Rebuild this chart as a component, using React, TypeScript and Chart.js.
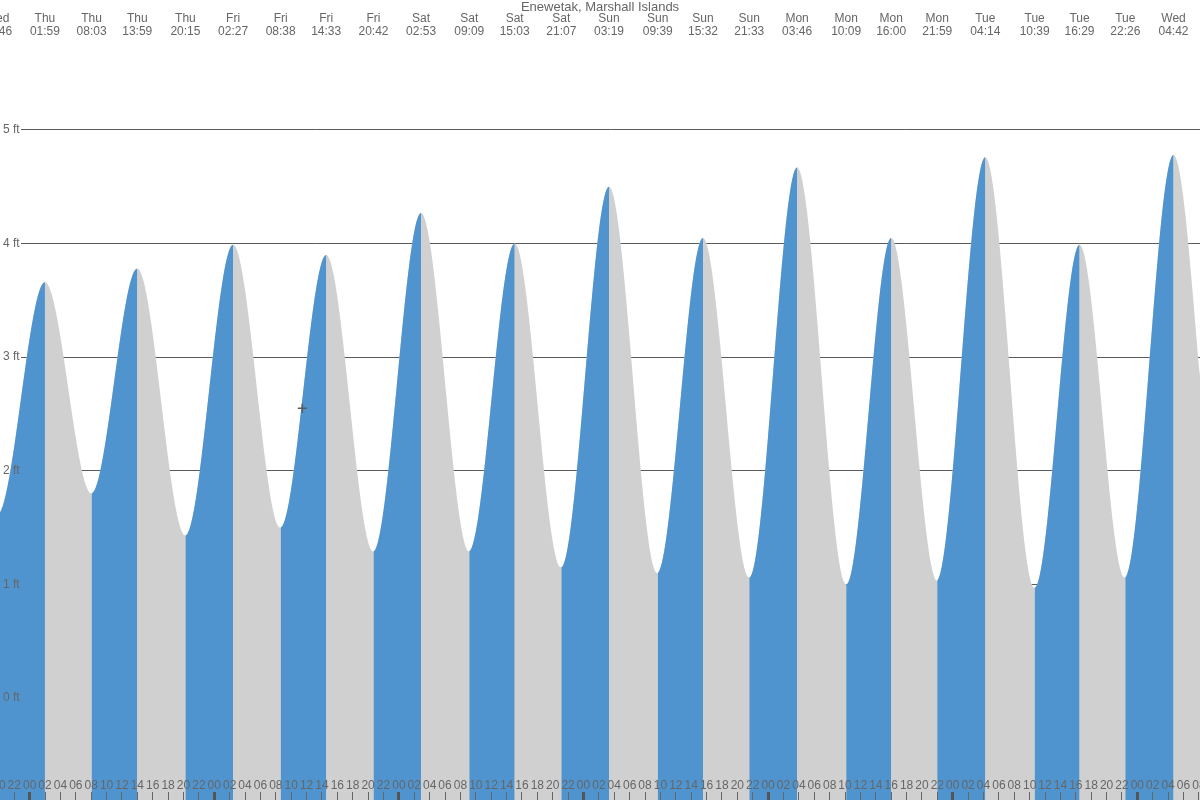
import React, { useEffect, useRef } from 'react';
import { Chart, registerables } from 'chart.js';

Chart.register(...registerables);

// ---------- data ----------
const TITLE = 'Enewetak, Marshall Islands';

// tide extremes (first and last two lie beyond the visible edges)
const tideDays = ['Wed', 'Wed', 'Thu', 'Thu', 'Thu', 'Thu', 'Fri', 'Fri', 'Fri', 'Fri', 'Sat', 'Sat', 'Sat', 'Sat', 'Sun', 'Sun', 'Sun', 'Sun', 'Mon', 'Mon', 'Mon', 'Mon', 'Tue', 'Tue', 'Tue', 'Tue', 'Wed', 'Wed', 'Wed'];
const tideTimes = ['13:35', '19:46', '01:59', '08:03', '13:59', '20:15', '02:27', '08:38', '14:33', '20:42', '02:53', '09:09', '15:03', '21:07', '03:19', '09:39', '15:32', '21:33', '03:46', '10:09', '16:00', '21:59', '04:14', '10:39', '16:29', '22:26', '04:42', '11:05', '17:00'];
const tideFeet = [3.60, 1.61, 3.66, 1.80, 3.78, 1.43, 3.99, 1.50, 3.90, 1.29, 4.27, 1.29, 4.00, 1.15, 4.50, 1.10, 4.05, 1.06, 4.67, 1.00, 4.05, 1.03, 4.76, 0.97, 3.99, 1.06, 4.78, 1.30, 4.00];

// "now" marker
const nowDayOffset = 1; // Fri
const nowTime = '11:27';
const nowFeet = 2.55;

// axis ranges (hours from Thu 00:00, feet)
const X_MIN = -3.855;
const X_MAX = 152.145;
const Y_MIN = -0.898;
const Y_MAX = 6.144;
const yTickValues = [0, 1, 2, 3, 4, 5];
const HOUR_TICK_FIRST = -4;
const HOUR_TICK_LAST = 152;
const HOUR_TICK_STEP = 2;

// ---------- styles ----------
const BLUE = '#4f94cf';
const GRAY = '#d0d0d0';
const TEXT = '#666666';
const GRID = '#5a5a5a';
const FONT = "'Liberation Sans', Arial, sans-serif";
const NARROW = "'Liberation Sans Narrow', 'Liberation Sans', Arial, sans-serif";

function toHours(t: string): number {
  const [h, m] = t.split(':').map(Number);
  return h + m / 60;
}

const tideHours: number[] = (() => {
  let day = -1;
  return tideDays.map((d, i) => {
    if (i > 0 && d !== tideDays[i - 1]) day++;
    return day * 24 + toHours(tideTimes[i]);
  });
})();

const hourTicks: number[] = [];
for (let v = HOUR_TICK_FIRST; v <= HOUR_TICK_LAST; v += HOUR_TICK_STEP) hourTicks.push(v);

const topTickIdx = tideHours.map((h, i) => i).filter((i) => tideHours[i] > X_MIN - 2 && tideHours[i] <= X_MAX);

const tidePoints = () => tideHours.map((h, i) => ({ x: h, y: tideFeet[i] }));

const yGridPlugin = {
  id: 'yGridLines',
  beforeDatasetsDraw(chart: any) {
    const { ctx, chartArea } = chart;
    const y = chart.scales.y;
    ctx.save();
    ctx.strokeStyle = GRID;
    ctx.lineWidth = 1;
    yTickValues.forEach((v) => {
      const py = Math.round(y.getPixelForValue(v) - 0.5) + 0.5;
      ctx.beginPath();
      ctx.moveTo(chartArea.left + 21, py);
      ctx.lineTo(chartArea.right, py);
      ctx.stroke();
    });
    ctx.restore();
  },
};

const isMidnight = (c: any) => c.tick && ((c.tick.value % 24) + 24) % 24 === 0;

export default function App() {
  const ref = useRef<HTMLCanvasElement>(null);

  useEffect(() => {
    document.body.style.margin = '0';
    Chart.defaults.font.family = FONT;
    const chart = new Chart(ref.current as HTMLCanvasElement, {
      type: 'line',
      data: {
        datasets: [
          {
            label: 'now',
            data: [{ x: nowDayOffset * 24 + toHours(nowTime), y: nowFeet }],
            showLine: false,
            fill: false,
            pointStyle: 'cross',
            pointRadius: 4.5,
            borderColor: '#5a5a5a',
            backgroundColor: '#5a5a5a',
            borderWidth: 1.5,
            order: -1,
          } as any,
          {
            label: 'rising',
            data: tidePoints(),
            fill: 'start',
            backgroundColor: BLUE,
            borderColor: 'rgba(0,0,0,0)',
            borderWidth: 0,
            pointRadius: 0,
            cubicInterpolationMode: 'monotone',
            segment: {
              backgroundColor: (c: any) => (c.p1.parsed.y >= c.p0.parsed.y ? BLUE : 'rgba(0,0,0,0)'),
              borderColor: 'rgba(0,0,0,0)',
            },
            order: 1,
          } as any,
          {
            label: 'tide',
            data: tidePoints(),
            fill: 'start',
            backgroundColor: GRAY,
            borderColor: 'rgba(0,0,0,0)',
            borderWidth: 0,
            pointRadius: 0,
            cubicInterpolationMode: 'monotone',
            order: 2,
          } as any,
        ],
      },
      options: {
        animation: false,
        responsive: false,
        layout: { padding: 0, autoPadding: false },
        events: [],
        plugins: {
          legend: { display: false },
          tooltip: { enabled: false },
          title: { display: false },
        },
        scales: {
          x: {
            type: 'linear',
            position: 'bottom',
            min: X_MIN,
            max: X_MAX,
            afterBuildTicks: (s: any) => {
              s.ticks = hourTicks.map((v) => ({ value: v }));
            },
            afterFit: (s: any) => {
              s.height = 0;
              s.paddingLeft = 0;
              s.paddingRight = 0;
            },
            grid: {
              display: true,
              drawOnChartArea: false,
              drawTicks: true,
              tickLength: -8,
              tickWidth: (c: any) => (isMidnight(c) ? 3 : 1),
              tickColor: (c: any) => (isMidnight(c) ? '#555555' : '#666666'),
              z: 1,
            },
            border: { display: false },
            ticks: {
              mirror: true,
              autoSkip: false,
              maxRotation: 0,
              minRotation: 0,
              padding: 6.8,
              z: 1,
              color: TEXT,
              font: { family: NARROW, size: 12, lineHeight: 1.2 },
              callback: (v: any) => {
                const h = ((Number(v) % 24) + 24) % 24;
                return String(h).padStart(2, '0');
              },
            },
          },
          x2: {
            type: 'linear',
            position: 'top',
            min: X_MIN,
            max: X_MAX,
            afterBuildTicks: (s: any) => {
              s.ticks = topTickIdx.map((i) => ({ value: tideHours[i] }));
            },
            afterFit: (s: any) => {
              s.height = 0;
              s.paddingLeft = 0;
              s.paddingRight = 0;
            },
            grid: { display: false, drawTicks: false },
            border: { display: false },
            title: {
              display: true,
              text: TITLE,
              color: TEXT,
              font: { family: FONT, size: 13, lineHeight: 1.0 },
              padding: { top: 1, bottom: 0 },
            },
            ticks: {
              mirror: true,
              autoSkip: false,
              maxRotation: 0,
              minRotation: 0,
              padding: -1.2,
              z: 1,
              color: TEXT,
              font: { family: FONT, size: 12, lineHeight: 1.1 },
              callback: (_v: any, index: number) => {
                const i = topTickIdx[index];
                return [tideDays[i], tideTimes[i]];
              },
            },
          },
          y: {
            type: 'linear',
            position: 'left',
            min: Y_MIN,
            max: Y_MAX,
            afterBuildTicks: (s: any) => {
              s.ticks = yTickValues.map((v) => ({ value: v }));
            },
            afterFit: (s: any) => {
              s.width = 0;
              s.paddingTop = 0;
              s.paddingBottom = 0;
            },
            grid: { display: false },
            border: { display: false },
            ticks: {
              mirror: true,
              padding: 3,
              z: 1,
              color: TEXT,
              font: { family: FONT, size: 12 },
              callback: (v: any) => `${v} ft`,
            },
          },
        },
      } as any,
      plugins: [yGridPlugin],
    });
    return () => chart.destroy();
  }, []);

  return (
    <div style={{ position: 'absolute', left: 0, top: 0, width: 1200, height: 800 }}>
      <canvas ref={ref} width={1200} height={800} style={{ display: 'block' }} />
    </div>
  );
}
